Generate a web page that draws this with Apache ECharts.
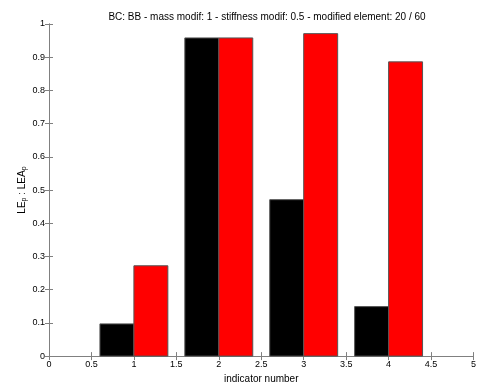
<!DOCTYPE html>
<html>
<head>
<meta charset="utf-8">
<script src="https://cdn.jsdelivr.net/npm/echarts@6/dist/echarts.min.js"></script>
<style>
  html, body { margin: 0; padding: 0; background: #fff; }
  #chart { width: 479px; height: 389px; }
</style>
</head>
<body>
<div id="chart"></div>
<script>
// indicator positions and bar heights
const indicators = [1, 2, 3, 4];
const blackValues = [0.097, 0.958, 0.471, 0.149];
const redValues = [0.272, 0.958, 0.971, 0.886];

const BAR_W = 0.4;
const axisColor = "#808080";
const font = "'Liberation Sans', Arial, sans-serif";

// black bar sits left of the indicator, red one right of it
function barRender(offset, fill) {
  return function (params, api) {
    const x = api.value(0);
    const v = api.value(1);
    const p0 = api.coord([x + offset, v]);
    const p1 = api.coord([x + offset + BAR_W, 0]);
    return {
      type: "rect",
      shape: { x: p0[0], y: p0[1], width: p1[0] - p0[0], height: p1[1] - p0[1] },
      style: { fill: fill, stroke: "#555", lineWidth: 1 },
    };
  };
}

const chart = echarts.init(document.getElementById("chart"), null, { renderer: "canvas" });

const commonAxis = {
  axisLine: { show: true, lineStyle: { color: axisColor, width: 1 } },
  axisTick: { show: true, inside: true, length: 4, lineStyle: { color: axisColor } },
  splitLine: { show: false },
};

chart.setOption({
  animation: false,
  backgroundColor: "#fff",
  textStyle: { fontFamily: font },
  title: {
    text: "BC: BB - mass modif: 1 - stiffness modif: 0.5 - modified element: 20 / 60",
    left: 262,
    textAlign: "center",
    top: 7,
    textStyle: { fontFamily: font, fontSize: 10, fontWeight: "normal", color: "#000" },
  },
  grid: { left: 49, right: 3, top: 24, bottom: 27, containLabel: false },
  xAxis: [
    Object.assign({}, commonAxis, {
      type: "value",
      min: 0,
      max: 5,
      interval: 0.5,
      name: "indicator number",
      nameLocation: "middle",
      nameGap: 15,
      nameTextStyle: { fontFamily: font, fontSize: 10, color: "#000" },
      axisLabel: {
        fontFamily: font, fontSize: 9, color: "#000", margin: 4,
        formatter: (v) => String(v),
      },
    }),
    Object.assign({}, commonAxis, {
      type: "value",
      position: "top",
      min: 0,
      max: 5,
      interval: 0.5,
      axisLabel: { show: false },
    }),
  ],
  yAxis: [
    Object.assign({}, commonAxis, {
      type: "value",
      min: 0,
      max: 1,
      interval: 0.1,
      name: "{a|LE}{s|p}{a| : LEA}{s|p}",
      nameLocation: "middle",
      nameRotate: 90,
      nameGap: 21,
      nameMoveOverlap: false,
      nameTextStyle: {
        color: "#000",
        rich: {
          a: { fontFamily: font, fontSize: 10, color: "#000" },
          s: { fontFamily: font, fontSize: 7, color: "#000", padding: [5, 0, 0, 0] },
        },
      },
      axisLabel: {
        fontFamily: font, fontSize: 9, color: "#000", margin: 4,
        formatter: (v) => String(Math.round(v * 10) / 10),
      },
    }),
    Object.assign({}, commonAxis, {
      type: "value",
      position: "right",
      min: 0,
      max: 1,
      interval: 0.1,
      axisLabel: { show: false },
    }),
  ],
  series: [
    {
      type: "custom",
      name: "black",
      xAxisIndex: 0,
      yAxisIndex: 0,
      renderItem: barRender(-BAR_W, "#000"),
      data: indicators.map((x, i) => [x, blackValues[i]]),
    },
    {
      type: "custom",
      name: "red",
      xAxisIndex: 0,
      yAxisIndex: 0,
      renderItem: barRender(0, "#ff0000"),
      data: indicators.map((x, i) => [x, redValues[i]]),
    },
  ],
});
</script>
</body>
</html>
